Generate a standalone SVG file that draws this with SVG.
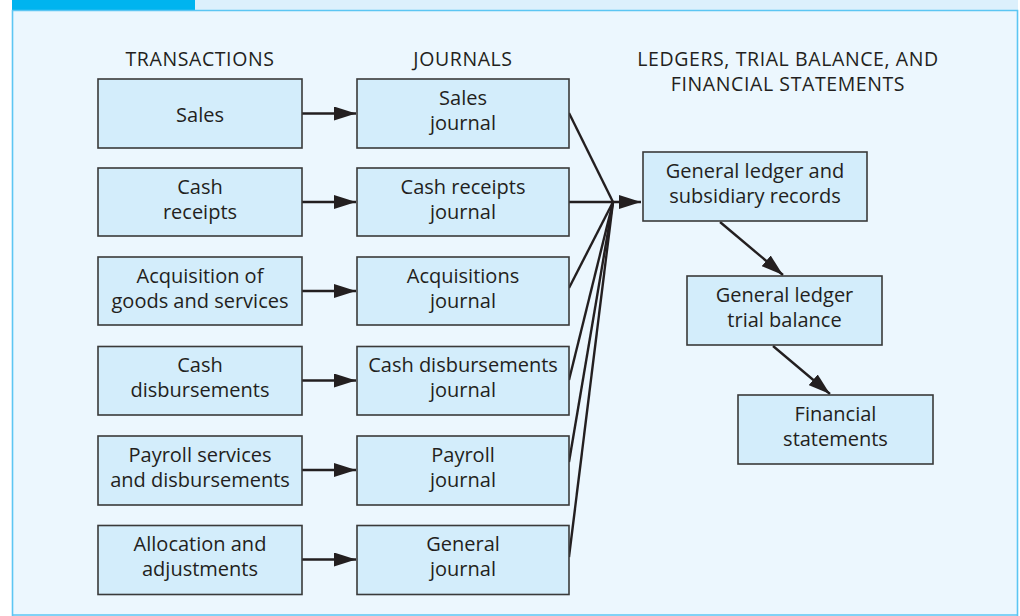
<svg xmlns="http://www.w3.org/2000/svg" width="1020" height="616" viewBox="0 0 1020 616">
<defs>
<style>
.box{fill:#d3edfb;stroke:#3a3a3a;stroke-width:1.6}
.t{font-family:"Open Sans","Noto Sans","Liberation Sans",sans-serif;font-size:20px;fill:#231f20;text-anchor:middle}
.h{font-family:"Open Sans","Noto Sans","Liberation Sans",sans-serif;font-size:19.5px;letter-spacing:0.6px;fill:#231f20;text-anchor:middle}
.c{fill:none;stroke:#231f20;stroke-width:2.4}
</style>
<marker id="ah2" viewBox="0 0 22 14" refX="22" refY="7" markerWidth="22" markerHeight="14" orient="auto" markerUnits="userSpaceOnUse">
<path d="M0,0 L22,7 L0,14 Z" fill="#231f20"/>
</marker>
</defs>
<rect x="0" y="0" width="1020" height="616" fill="#ffffff"/>
<rect x="12" y="0" width="1006" height="616" fill="#ecf7fe"/>
<rect x="12" y="0" width="1006" height="10" fill="#dcf0fc"/>
<rect x="12" y="0" width="183" height="10" fill="#00b4ef"/>
<path d="M12.5,616 L12.5,10.5 L1017.5,10.5 L1017.5,616" fill="none" stroke="#5cc6f3" stroke-width="1.6"/>
<path d="M12,615 L1018,615" stroke="#5cc6f3" stroke-width="1.6"/>

<g id="headers">
<text class="h" x="200" y="66">TRANSACTIONS</text>
<text class="h" x="463" y="66">JOURNALS</text>
<text class="h" x="788" y="66">LEDGERS, TRIAL BALANCE, AND</text>
<text class="h" x="788" y="91">FINANCIAL STATEMENTS</text>
</g>

<g id="connectors">
<line class="c" x1="302" y1="113.5" x2="356" y2="113.5" marker-end="url(#ah2)"/>
<line class="c" x1="302" y1="202" x2="356" y2="202" marker-end="url(#ah2)"/>
<line class="c" x1="302" y1="291" x2="356" y2="291" marker-end="url(#ah2)"/>
<line class="c" x1="302" y1="380.5" x2="356" y2="380.5" marker-end="url(#ah2)"/>
<line class="c" x1="302" y1="470" x2="356" y2="470" marker-end="url(#ah2)"/>
<line class="c" x1="302" y1="559.5" x2="356" y2="559.5" marker-end="url(#ah2)"/>
<path class="c" d="M569,113 L613,202"/>
<path class="c" d="M569,288 L613,202"/>
<path class="c" d="M569,380 L613,202"/>
<path class="c" d="M569,462 L613,202"/>
<path class="c" d="M569,557 L613,202"/>
<line class="c" x1="569" y1="202" x2="641" y2="202" marker-end="url(#ah2)"/>
<line class="c" x1="720" y1="222" x2="783" y2="275" marker-end="url(#ah2)"/>
<line class="c" x1="773" y1="346" x2="830" y2="394" marker-end="url(#ah2)"/>
</g>

<g id="sales">
<rect class="box" x="98" y="79" width="204" height="69"/>
<text class="t" x="200" y="122">Sales</text>
</g>
<g id="cash-receipts">
<rect class="box" x="98" y="168" width="204" height="68"/>
<text class="t" x="200" y="193.5">Cash</text>
<text class="t" x="200" y="218.5">receipts</text>
</g>
<g id="acquisition">
<rect class="box" x="98" y="257" width="204" height="68"/>
<text class="t" x="200" y="282.5">Acquisition of</text>
<text class="t" x="200" y="307.5">goods and services</text>
</g>
<g id="cash-disbursements">
<rect class="box" x="98" y="346.5" width="204" height="68.5"/>
<text class="t" x="200" y="372">Cash</text>
<text class="t" x="200" y="397">disbursements</text>
</g>
<g id="payroll">
<rect class="box" x="98" y="436" width="204" height="69"/>
<text class="t" x="200" y="461.5">Payroll services</text>
<text class="t" x="200" y="486.5">and disbursements</text>
</g>
<g id="allocation">
<rect class="box" x="98" y="525.5" width="204" height="69"/>
<text class="t" x="200" y="551">Allocation and</text>
<text class="t" x="200" y="576">adjustments</text>
</g>

<g id="sales-journal">
<rect class="box" x="357" y="79" width="212" height="69"/>
<text class="t" x="463" y="104.5">Sales</text>
<text class="t" x="463" y="129.5">journal</text>
</g>
<g id="cash-receipts-journal">
<rect class="box" x="357" y="168" width="212" height="68"/>
<text class="t" x="463" y="193.5">Cash receipts</text>
<text class="t" x="463" y="218.5">journal</text>
</g>
<g id="acquisitions-journal">
<rect class="box" x="357" y="257" width="212" height="68"/>
<text class="t" x="463" y="282.5">Acquisitions</text>
<text class="t" x="463" y="307.5">journal</text>
</g>
<g id="cash-disbursements-journal">
<rect class="box" x="357" y="346.5" width="212" height="68.5"/>
<text class="t" x="463" y="372">Cash disbursements</text>
<text class="t" x="463" y="397">journal</text>
</g>
<g id="payroll-journal">
<rect class="box" x="357" y="436" width="212" height="69"/>
<text class="t" x="463" y="461.5">Payroll</text>
<text class="t" x="463" y="486.5">journal</text>
</g>
<g id="general-journal">
<rect class="box" x="357" y="525.5" width="212" height="69"/>
<text class="t" x="463" y="551">General</text>
<text class="t" x="463" y="576">journal</text>
</g>

<g id="general-ledger">
<rect class="box" x="643" y="152" width="224" height="69"/>
<text class="t" x="755" y="178">General ledger and</text>
<text class="t" x="755" y="203">subsidiary records</text>
</g>
<g id="trial-balance">
<rect class="box" x="687" y="276" width="195" height="69"/>
<text class="t" x="784.5" y="302">General ledger</text>
<text class="t" x="784.5" y="327">trial balance</text>
</g>
<g id="financial-statements">
<rect class="box" x="738" y="395" width="195" height="69"/>
<text class="t" x="835.5" y="421">Financial</text>
<text class="t" x="835.5" y="446">statements</text>
</g>
</svg>
